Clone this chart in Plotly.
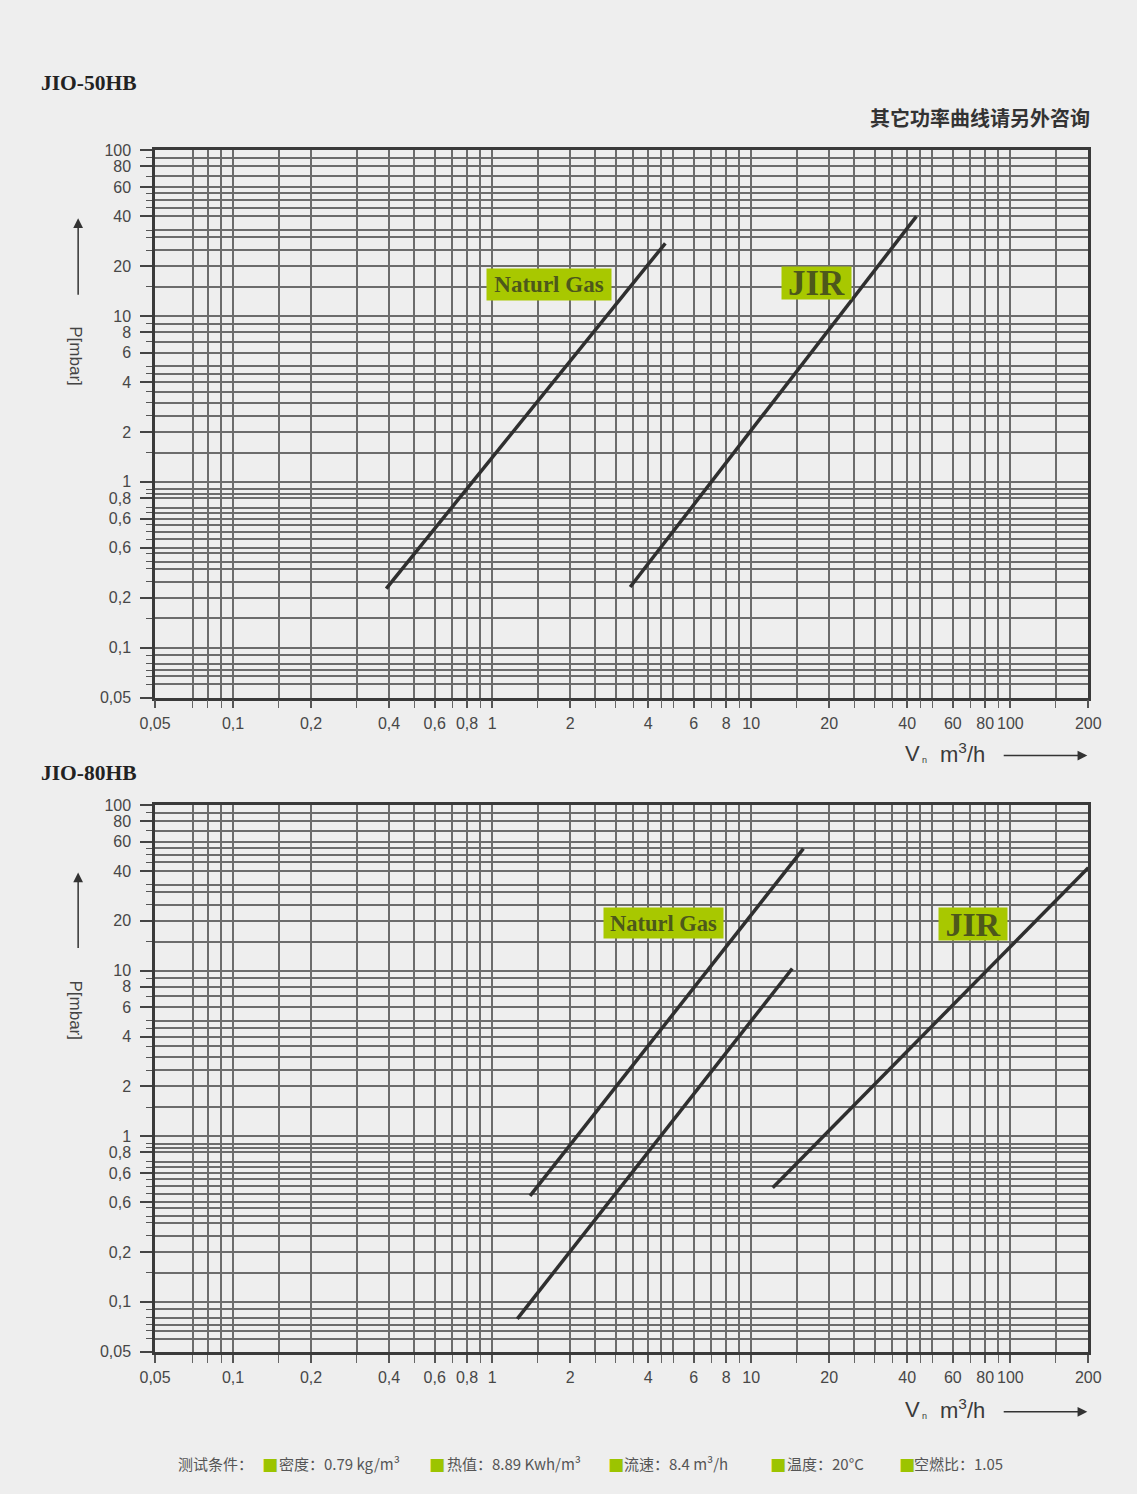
import math
import plotly.graph_objects as go

W, H = 1137, 1494

# ---- axis ticks (log scales) ----
x_tick_vals = [0.05, 0.1, 0.2, 0.4, 0.6, 0.8, 1, 2, 4, 6, 8, 10, 20, 40, 60, 80, 100, 200]
x_tick_text = ["0,05", "0,1", "0,2", "0,4", "0,6", "0,8", "1", "2", "4", "6", "8", "10",
               "20", "40", "60", "80", "100", "200"]
x_grid_extra = [0.07, 0.08, 0.09, 0.15, 0.3, 0.5, 0.7, 0.9, 1.5, 2.5, 3, 3.5, 4.5, 5, 7, 9,
                15, 25, 30, 35, 45, 50, 70, 90, 150]

y_tick_vals = [0.05, 0.1, 0.2, 0.4, 0.6, 0.8, 1, 2, 4, 6, 8, 10, 20, 40, 60, 80, 100]
y_tick_text = ["0,05", "0,1", "0,2", "0,6", "0,6", "0,8", "1", "2", "4", "6", "8", "10",
               "20", "40", "60", "80", "100"]
y_grid_extra = [0.06, 0.067, 0.073, 0.08, 0.09, 0.15, 0.25, 0.3, 0.33, 0.37, 0.45, 0.5, 0.55,
                0.65, 0.7, 0.85, 0.9, 1.5, 2.5, 3, 3.5, 4.5, 5, 7, 9, 15, 25, 30, 33, 45, 50,
                55, 70, 90]

# ---- JIO-50HB curves: flow [m3/h] vs pressure drop [mbar] ----
ng_50_flow = [0.39, 4.66]
ng_50_p = [0.227, 27.5]
jir_50_flow = [3.41, 43.4]
jir_50_p = [0.232, 40.0]

# ---- JIO-80HB curves ----
ng_80_flow = [1.40, 15.9]
ng_80_p = [0.437, 54.6]
mid_80_flow = [1.25, 14.4]
mid_80_p = [0.079, 10.3]
jir_80_flow = [12.1, 200]
jir_80_p = [0.489, 41.9]

# ---- texts ----
model_titles = ["JIO-50HB", "JIO-80HB"]
note_text = "其它功率曲线请另外咨询"
test_label = "测试条件："
test_items = ["密度：0.79 kg/m³", "热值：8.89 Kwh/m³", "流速：8.4 m³/h", "温度：20°C", "空燃比：1.05"]

# placement of the figure inside the viewport (offset and scale of the page)
VIEW_X0, VIEW_SX = 15.8, 0.9753
VIEW_Y0, VIEW_SY = 7.7, 0.9883


def px(x):
    """viewport pixel column -> paper fraction"""
    return (x - VIEW_X0) / VIEW_SX / W


def py(y):
    """viewport pixel row -> paper fraction"""
    return 1 - (y - VIEW_Y0) / VIEW_SY / H


GRID = "#6c6c6c"
LINE = "#2f2f2f"
TICKFONT = dict(family="Liberation Sans, Arial, sans-serif", size=16, color="#474747")

fig = go.Figure()

curve_style = dict(mode="lines", line=dict(color=LINE, width=3.5), showlegend=False,
                   hoverinfo="skip")
fig.add_trace(go.Scatter(x=ng_50_flow, y=ng_50_p, xaxis="x", yaxis="y", **curve_style))
fig.add_trace(go.Scatter(x=jir_50_flow, y=jir_50_p, xaxis="x", yaxis="y", **curve_style))
fig.add_trace(go.Scatter(x=ng_80_flow, y=ng_80_p, xaxis="x2", yaxis="y2", **curve_style))
fig.add_trace(go.Scatter(x=mid_80_flow, y=mid_80_p, xaxis="x2", yaxis="y2", **curve_style))
fig.add_trace(go.Scatter(x=jir_80_flow, y=jir_80_p, xaxis="x2", yaxis="y2", **curve_style))


def x_axis(anchor):
    return dict(
        type="log", range=[math.log10(0.05), math.log10(200)], domain=[px(155), px(1089)],
        anchor=anchor, tickmode="array", tickvals=x_tick_vals, ticktext=x_tick_text,
        ticks="outside", ticklen=8, tickwidth=1.5, tickcolor="#555555",
        showgrid=True, gridcolor=GRID, gridwidth=1.6,
        showline=True, linecolor="#3a3a3a", linewidth=2.6, mirror=True,
        zeroline=False, fixedrange=True, tickfont=TICKFONT, ticklabelstandoff=1,
        minor=dict(tickmode="array", tickvals=x_grid_extra, ticks="outside", ticklen=8,
                   tickwidth=1.3, tickcolor="#666666", showgrid=True, gridcolor=GRID,
                   gridwidth=1.6),
    )


def y_axis(anchor, top, bottom):
    return dict(
        type="log", range=[math.log10(0.05), 2], domain=[py(bottom), py(top)],
        anchor=anchor, tickmode="array", tickvals=y_tick_vals, ticktext=y_tick_text,
        ticks="outside", ticklen=12, tickwidth=1.8, tickcolor="#444444",
        showgrid=True, gridcolor=GRID, gridwidth=1.6,
        showline=True, linecolor="#3a3a3a", linewidth=2.6, mirror=True,
        zeroline=False, fixedrange=True, tickfont=TICKFONT, ticklabelstandoff=6,
        minor=dict(tickmode="array", tickvals=y_grid_extra, ticks="outside", ticklen=6,
                   tickwidth=1.4, tickcolor="#555555", showgrid=True, gridcolor=GRID,
                   gridwidth=1.6),
    )


annotations = []


def note(text, x, y, xa="center", ya="middle", **kw):
    d = dict(text=text, x=px(x), y=py(y), xref="paper", yref="paper",
             xanchor=xa, yanchor=ya, showarrow=False)
    d.update(kw)
    annotations.append(d)


def arrow(head_x, head_y, tail_x, tail_y):
    annotations.append(dict(
        text="", x=px(head_x), y=py(head_y), xref="paper", yref="paper",
        showarrow=True, ax=(tail_x - head_x) / VIEW_SX, ay=(tail_y - head_y) / VIEW_SY,
        arrowhead=2, arrowsize=1.3, arrowwidth=1.5, arrowcolor="#333333", standoff=0))


# model titles
for title, yy in zip(model_titles, [83, 772]):
    note(f"<b>{title}</b>", 39, yy, xa="left",
         font=dict(family="Liberation Serif, serif", size=21.5, color="#222222"))

# note at top right
note(f"<b>{note_text}</b>", 1093, 117, xa="right",
     font=dict(family="Noto Sans CJK SC", size=20, color="#333333"))

AX_FONT = dict(family="Liberation Sans, Arial, sans-serif", size=22, color="#3a3a3a")
for (ty_title, ty_arrow_head, ty_arrow_tail, tx_y) in [(356, 218, 295, 753), (1010, 872, 948, 1409)]:
    # y axis title + arrow
    note("P[mbar]", 75, ty_title, textangle=90,
         font=dict(family="Liberation Sans, Arial, sans-serif", size=17, color="#444444"))
    arrow(78, ty_arrow_head, 78, ty_arrow_tail)
    # x axis title + arrow
    note("V", 904, tx_y, xa="left", font=AX_FONT)
    note("n", 921, tx_y + 6, xa="left",
         font=dict(family="Liberation Sans, Arial, sans-serif", size=9, color="#3a3a3a"))
    note("m<sup>3</sup>/h", 939, tx_y - 1, xa="left", font=AX_FONT)
    arrow(1088, tx_y + 2, 1005, tx_y + 2)

# curve labels
GREEN = "#a8c800"
LABEL_TXT = "#4d581b"
labels = [
    ("Naturl Gas", 549.5, 284.5, 116, 23, 23),
    ("JIR", 816.5, 282.5, 61, 24, 35),
    ("Naturl Gas", 664, 922.5, 111, 22, 22.5),
    ("JIR", 974, 923, 60, 24, 34),
]
for txt, cx, cy, w, h, fs in labels:
    note(f"<b>{txt}</b>", cx, cy, bgcolor=GREEN, borderpad=4, width=w, height=h,
         font=dict(family="Liberation Serif, serif", size=fs, color=LABEL_TXT))

# test conditions footer
FOOT_FONT = dict(family="Noto Sans CJK SC", size=15, color="#555555")
note(test_label, 176, 1463, xa="left", font=FOOT_FONT)
for item, sq_x, tx_x in zip(test_items, [260, 427, 606, 768, 898], [277, 445, 622, 785, 913]):
    note("■", sq_x, 1463, xa="left",
         font=dict(family="DejaVu Sans", size=17, color="#9cc400"))
    note(item, tx_x, 1463, xa="left", font=FOOT_FONT)

fig.update_layout(
    width=W, height=H, margin=dict(l=0, r=0, t=0, b=0),
    paper_bgcolor="#eeeeee", plot_bgcolor="rgba(0,0,0,0)",
    xaxis=x_axis("y"), yaxis=y_axis("x", 150, 697),
    xaxis2=x_axis("y2"), yaxis2=y_axis("x2", 804.5, 1351),
    annotations=annotations,
)

fig.write_html("out.html")
